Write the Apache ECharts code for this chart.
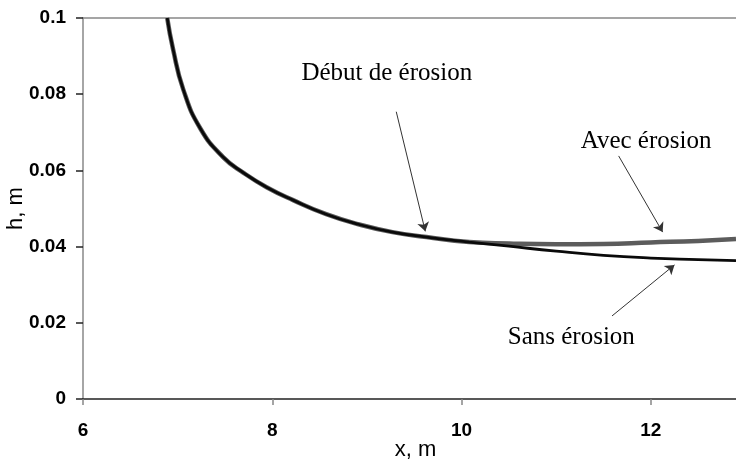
<!DOCTYPE html>
<html>
<head>
<meta charset="utf-8">
<script src="https://cdn.jsdelivr.net/npm/echarts@6/dist/echarts.min.js"></script>
<style>
  html, body { margin: 0; padding: 0; background: #fff; }
  #chart { width: 736px; height: 464px; }
</style>
</head>
<body>
<div id="chart"></div>
<script>
// Water depth profile h(x) along the channel
const xs = [6.89, 6.95, 7.06, 7.24, 7.48, 7.70, 7.94, 8.22, 8.57, 8.92, 9.27, 9.63, 10.08, 10.5, 11.0, 11.5, 12.0, 12.5, 12.9];
const hSans = [0.1000, 0.0920, 0.0812, 0.0710, 0.0635, 0.0593, 0.0556, 0.0522, 0.0485, 0.0458, 0.0438, 0.0425, 0.0412, 0.0401, 0.0388, 0.0377, 0.0370, 0.0366, 0.0363];
const hAvec = [0.1000, 0.0920, 0.0812, 0.0710, 0.0635, 0.0593, 0.0556, 0.0522, 0.0485, 0.0458, 0.0438, 0.0425, 0.0412, 0.0408, 0.0406, 0.0407, 0.0411, 0.0415, 0.0420];

// Annotation texts and their arrows (data coordinates)
const noteTexts = ['Début de érosion', 'Avec érosion', 'Sans érosion'];
const notePos = [[9.21, 0.0854], [11.95, 0.0675], [11.16, 0.0161]];
const arrowFrom = [[9.31, 0.0754], [11.66, 0.0638], [11.59, 0.0218]];
const arrowTo = [[9.617, 0.0440], [12.125, 0.0438], [12.25, 0.0352]];

const pair = (a, b) => a.map((v, i) => [v, b[i]]);

const chart = echarts.init(document.getElementById('chart'), null, { renderer: 'canvas' });

const tickFont = { fontFamily: 'Liberation Sans, Arial, sans-serif', fontWeight: 'bold', fontSize: 19, color: '#000' };

chart.setOption({
  animation: false,
  backgroundColor: '#fff',
  grid: { left: 83, right: 0, top: 18, bottom: 65, containLabel: false, outerBoundsMode: 'none' },
  xAxis: [{
    type: 'value', min: 6, max: 12.9, interval: 2,
    name: 'x, m', nameLocation: 'middle', nameGap: 40, nameMoveOverlap: false,
    nameTextStyle: { fontFamily: 'Liberation Sans, Arial, sans-serif', fontSize: 22, color: '#000', padding: [0, 0, 0, 12] },
    axisLine: { show: true, lineStyle: { color: '#222', width: 1.5 } },
    axisTick: { show: true, length: 6, lineStyle: { color: '#888', width: 1.5 } },
    axisLabel: Object.assign({ margin: 22, showMaxLabel: false }, tickFont),
    splitLine: { show: false }
  }, {
    type: 'value', position: 'top', min: 6, max: 12.9,
    axisLine: { show: true, lineStyle: { color: '#888', width: 1.5 } },
    axisTick: { show: false }, axisLabel: { show: false }, splitLine: { show: false }
  }],
  yAxis: {
    type: 'value', min: 0, max: 0.1, interval: 0.02,
    name: 'h, m', nameLocation: 'middle', nameGap: 56, nameRotate: 90, nameMoveOverlap: false,
    nameTextStyle: { fontFamily: 'Liberation Sans, Arial, sans-serif', fontSize: 22, color: '#000' },
    axisLine: { show: true, lineStyle: { color: '#888', width: 1.5 } },
    axisTick: { show: true, length: 7, lineStyle: { color: '#222', width: 1.5 } },
    axisLabel: Object.assign({ margin: 17 }, tickFont),
    splitLine: { show: false }
  },
  series: [{
    name: 'Avec érosion',
    type: 'line',
    data: pair(xs, hAvec),
    smooth: 0.5,
    showSymbol: false,
    lineStyle: { color: '#5c5c5c', width: 4.5 },
    z: 2
  }, {
    name: 'Sans érosion',
    type: 'line',
    data: pair(xs, hSans),
    smooth: 0.5,
    showSymbol: false,
    lineStyle: { color: '#0a0a0a', width: 2.8 },
    z: 3,
    markLine: {
      silent: true,
      symbol: ['none', 'arrow'],
      symbolSize: 9,
      label: { show: false },
      lineStyle: { color: '#333', width: 1, type: 'solid' },
      data: arrowFrom.map((p, i) => [{ coord: p }, { coord: arrowTo[i] }])
    },
    markPoint: {
      silent: true,
      symbol: 'rect',
      symbolSize: 1,
      itemStyle: { color: 'rgba(0,0,0,0)' },
      label: {
        show: true, position: 'inside',
        fontFamily: 'Liberation Serif, Times New Roman, serif',
        fontSize: 25, color: '#000',
        formatter: p => p.name
      },
      data: notePos.map((p, i) => ({ name: noteTexts[i], coord: p }))
    }
  }]
});
</script>
</body>
</html>
